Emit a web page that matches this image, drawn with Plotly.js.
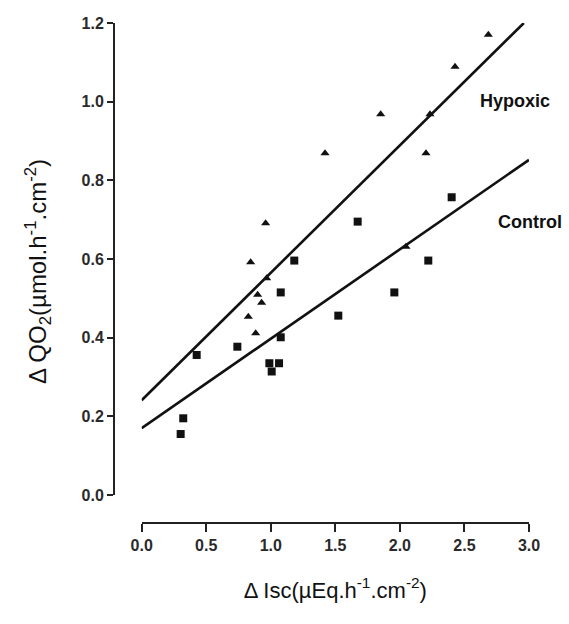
<!DOCTYPE html>
<html>
<head>
<meta charset="utf-8">
<script src="https://cdn.plot.ly/plotly-3.0.1.min.js"></script>
<style>html,body{margin:0;padding:0;background:#fff}#chart{width:569px;height:624px}</style>
</head>
<body>
<div id="chart"></div>
<script>
// Hypoxic (triangles)
const hypoxicX = [2.685, 2.427, 1.851, 2.233, 1.420, 2.202, 0.960, 2.047, 0.844, 0.968, 0.898, 0.929, 0.826, 0.883];
const hypoxicY = [1.170, 1.089, 0.968, 0.968, 0.869, 0.869, 0.691, 0.631, 0.592, 0.551, 0.509, 0.489, 0.453, 0.411];
// Control (squares)
const controlX = [2.401, 1.673, 1.182, 2.220, 1.077, 1.957, 1.523, 1.077, 0.426, 0.741, 0.989, 1.064, 1.007, 0.322, 0.302];
const controlY = [0.757, 0.695, 0.596, 0.596, 0.515, 0.515, 0.456, 0.401, 0.356, 0.377, 0.335, 0.335, 0.314, 0.195, 0.155];
// Regression lines (endpoints)
const hypoxicLineX = [0, 2.96];
const hypoxicLineY = [0.241, 1.2];
const controlLineX = [0, 3.0];
const controlLineY = [0.170, 0.852];
// Ticks
const xTicks = [0, 0.5, 1.0, 1.5, 2.0, 2.5, 3.0];
const xTickText = ['0.0', '0.5', '1.0', '1.5', '2.0', '2.5', '3.0'];
const yTicks = [0, 0.2, 0.4, 0.6, 0.8, 1.0, 1.2];
const yTickText = ['0.0', '0.2', '0.4', '0.6', '0.8', '1.0', '1.2'];
// Series labels and axis titles
const seriesLabels = ['Hypoxic', 'Control'];
const xTitle = 'Δ Isc(µEq.h<sup>-1</sup>.cm<sup>-2</sup>)';
const yTitle = 'Δ QO<sub>2</sub>(µmol.h<sup>-1</sup>.cm<sup>-2</sup>)';

const sans = 'Liberation Sans, Arial, Helvetica, sans-serif';
const tickFont = {family: sans, size: 16, color: '#2a2a2a', weight: 'bold'};

const traces = [
  {x: hypoxicLineX, y: hypoxicLineY, mode: 'lines', line: {color: '#111', width: 2.6}, hoverinfo: 'skip', cliponaxis: false},
  {x: controlLineX, y: controlLineY, mode: 'lines', line: {color: '#111', width: 2.6}, hoverinfo: 'skip', cliponaxis: false},
  {x: hypoxicX, y: hypoxicY, mode: 'markers', marker: {symbol: 'triangle-up', size: 8, color: '#111'}, cliponaxis: false},
  {x: controlX, y: controlY, mode: 'markers', marker: {symbol: 'square', size: 8, color: '#111'}, cliponaxis: false}
];

const W = 569, H = 624, ML = 114, MR = 40, MT = 23, MB = 101;
const plotW = W - ML - MR, plotH = H - MT - MB;
const px = v => (v - ML) / plotW;
const py = v => 1 - (v - MT) / plotH;

const layout = {
  width: W, height: H,
  margin: {l: ML, r: MR, t: MT, b: MB},
  paper_bgcolor: '#fff', plot_bgcolor: '#fff',
  showlegend: false,
  xaxis: {
    domain: [0.0667, 1], range: [0, 3], anchor: 'free', position: 0,
    tickvals: xTicks, ticktext: xTickText,
    showline: true, linecolor: '#222', linewidth: 2,
    ticks: 'outside', ticklen: 8, tickwidth: 2, tickcolor: '#222',
    showgrid: false, zeroline: false, tickfont: tickFont,
    title: {text: xTitle, font: {family: sans, size: 22, color: '#111'}, standoff: 28}
  },
  yaxis: {
    domain: [0.056, 1], range: [0, 1.2], anchor: 'free', position: 0,
    tickvals: yTicks, ticktext: yTickText,
    showline: true, linecolor: '#222', linewidth: 2,
    ticks: 'outside', ticklen: 6, tickwidth: 2, tickcolor: '#222',
    showgrid: false, zeroline: false, tickfont: tickFont
  },
  annotations: [
    {text: yTitle, textangle: -90, x: px(38), y: py(272), xref: 'paper', yref: 'paper', xanchor: 'center', yanchor: 'middle', showarrow: false, font: {family: sans, size: 24, color: '#111'}},
    {text: seriesLabels[0], x: px(515), y: py(101), xref: 'paper', yref: 'paper', xanchor: 'center', yanchor: 'middle', showarrow: false, font: {family: sans, size: 18, color: '#111', weight: 'bold'}},
    {text: seriesLabels[1], x: px(530), y: py(222), xref: 'paper', yref: 'paper', xanchor: 'center', yanchor: 'middle', showarrow: false, font: {family: sans, size: 18, color: '#111', weight: 'bold'}}
  ]
};

Plotly.newPlot('chart', traces, layout, {staticPlot: true});
</script>
</body>
</html>
